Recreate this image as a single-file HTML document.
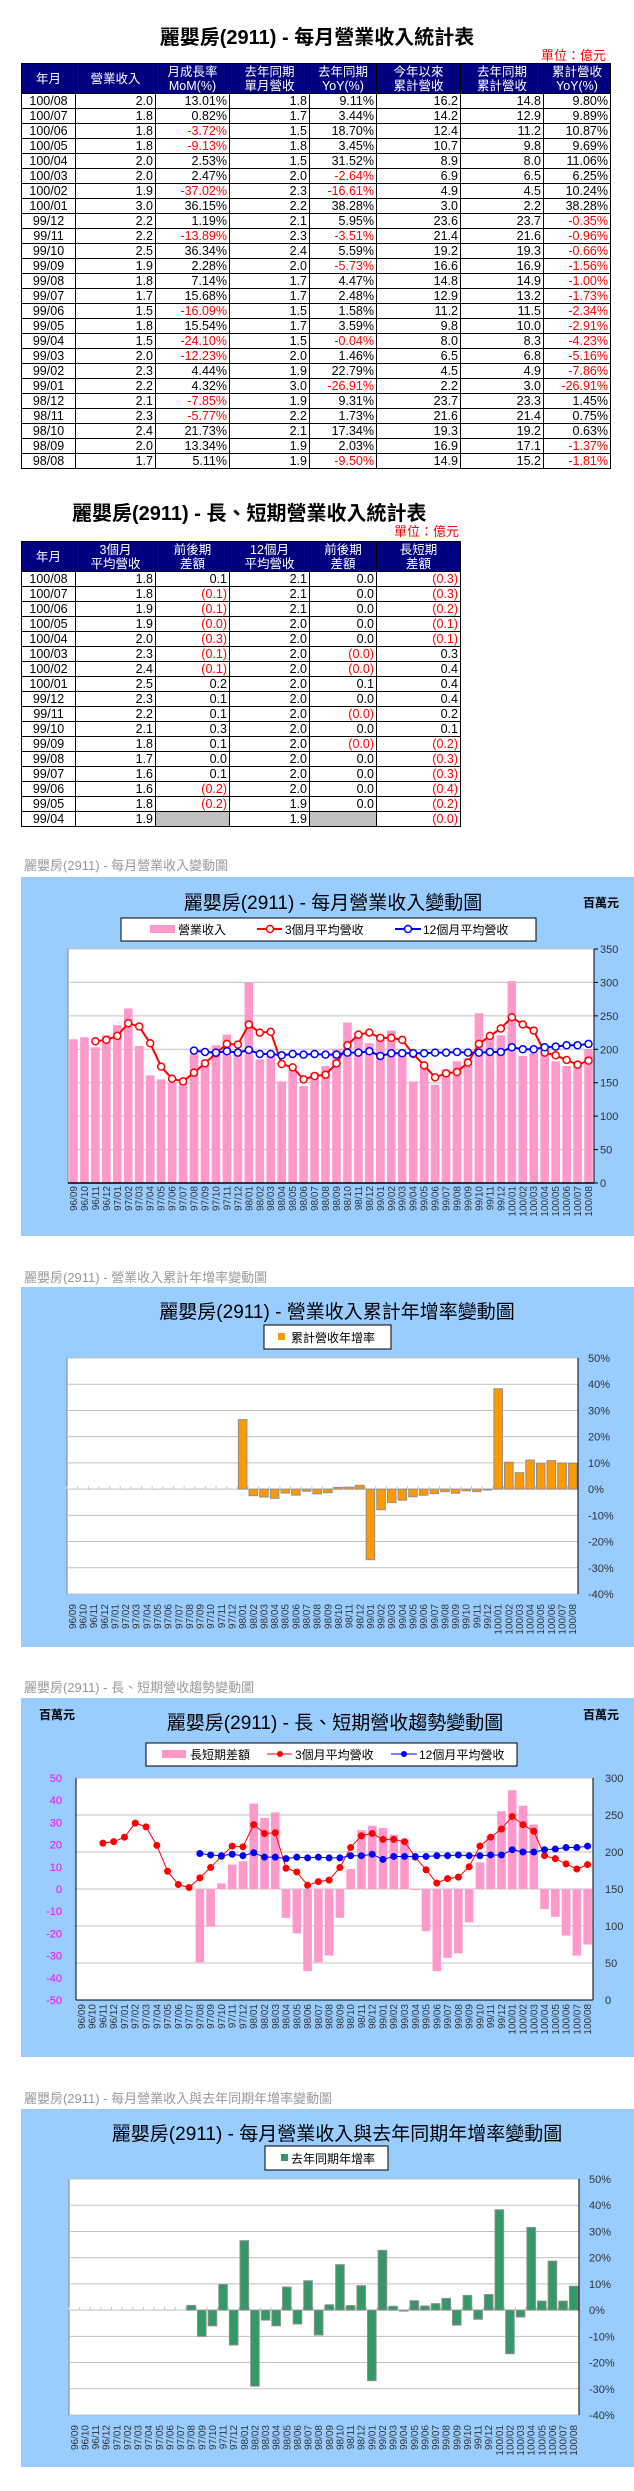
<!DOCTYPE html>
<html><head><meta charset="utf-8">
<style>
body{margin:0;width:634px;height:2491px;position:relative;background:#fff;font-family:"Liberation Sans","Noto Sans CJK TC",sans-serif;overflow:hidden}
.t{position:absolute;white-space:nowrap}
table{position:absolute;border-collapse:collapse;font-size:12.5px;table-layout:fixed}
td,th{border:1px solid #000;padding:0 2px;height:14px;line-height:14px;text-align:right;color:#000}
th{background:#000080;color:#fff;font-weight:normal;text-align:center;height:29px;line-height:14px;font-size:12.5px}
td.c{text-align:center}
td.n{color:#f00}
td.g{background:#c0c0c0}
</style></head><body>
<div class="t" style="left:0;width:634px;text-align:center;top:21px;font-size:20px;font-weight:bold">麗嬰房(2911) - 每月營業收入統計表</div>
<div class="t" style="right:28px;top:45px;font-size:13px;color:#f00">單位：億元</div>
<table id="t1" style="left:21px;top:63px;width:589px">
<colgroup><col style="width:54px"><col style="width:80px"><col style="width:74px"><col style="width:80px"><col style="width:67px"><col style="width:84px"><col style="width:83px"><col style="width:67px"></colgroup>
<tr><th>年月</th><th>營業收入</th><th>月成長率<br>MoM(%)</th><th>去年同期<br>單月營收</th><th>去年同期<br>YoY(%)</th><th>今年以來<br>累計營收</th><th>去年同期<br>累計營收</th><th>累計營收<br>YoY(%)</th></tr>
</table>
<div class="t" style="left:72px;top:497px;font-size:20px;font-weight:bold">麗嬰房(2911) - 長、短期營業收入統計表</div>
<div class="t" style="left:394px;top:521px;font-size:13px;color:#f00">單位：億元</div>
<table id="t2" style="left:21px;top:541px;width:439px">
<colgroup><col style="width:54px"><col style="width:80px"><col style="width:74px"><col style="width:80px"><col style="width:67px"><col style="width:84px"></colgroup>
<tr><th>年月</th><th>3個月<br>平均營收</th><th>前後期<br>差額</th><th>12個月<br>平均營收</th><th>前後期<br>差額</th><th>長短期<br>差額</th></tr>
</table>
<svg id="sv" xmlns="http://www.w3.org/2000/svg" width="634" height="2491" style="position:absolute;left:0;top:0" font-family="Liberation Sans, Noto Sans CJK TC, sans-serif"></svg>
<script>
const t1Rows=[
["100/08","2.0","13.01%","1.8","9.11%","16.2","14.8","9.80%"],
["100/07","1.8","0.82%","1.7","3.44%","14.2","12.9","9.89%"],
["100/06","1.8","-3.72%","1.5","18.70%","12.4","11.2","10.87%"],
["100/05","1.8","-9.13%","1.8","3.45%","10.7","9.8","9.69%"],
["100/04","2.0","2.53%","1.5","31.52%","8.9","8.0","11.06%"],
["100/03","2.0","2.47%","2.0","-2.64%","6.9","6.5","6.25%"],
["100/02","1.9","-37.02%","2.3","-16.61%","4.9","4.5","10.24%"],
["100/01","3.0","36.15%","2.2","38.28%","3.0","2.2","38.28%"],
["99/12","2.2","1.19%","2.1","5.95%","23.6","23.7","-0.35%"],
["99/11","2.2","-13.89%","2.3","-3.51%","21.4","21.6","-0.96%"],
["99/10","2.5","36.34%","2.4","5.59%","19.2","19.3","-0.66%"],
["99/09","1.9","2.28%","2.0","-5.73%","16.6","16.9","-1.56%"],
["99/08","1.8","7.14%","1.7","4.47%","14.8","14.9","-1.00%"],
["99/07","1.7","15.68%","1.7","2.48%","12.9","13.2","-1.73%"],
["99/06","1.5","-16.09%","1.5","1.58%","11.2","11.5","-2.34%"],
["99/05","1.8","15.54%","1.7","3.59%","9.8","10.0","-2.91%"],
["99/04","1.5","-24.10%","1.5","-0.04%","8.0","8.3","-4.23%"],
["99/03","2.0","-12.23%","2.0","1.46%","6.5","6.8","-5.16%"],
["99/02","2.3","4.44%","1.9","22.79%","4.5","4.9","-7.86%"],
["99/01","2.2","4.32%","3.0","-26.91%","2.2","3.0","-26.91%"],
["98/12","2.1","-7.85%","1.9","9.31%","23.7","23.3","1.45%"],
["98/11","2.3","-5.77%","2.2","1.73%","21.6","21.4","0.75%"],
["98/10","2.4","21.73%","2.1","17.34%","19.3","19.2","0.63%"],
["98/09","2.0","13.34%","1.9","2.03%","16.9","17.1","-1.37%"],
["98/08","1.7","5.11%","1.9","-9.50%","14.9","15.2","-1.81%"]];
const t2Rows=[
["100/08","1.8","0.1","2.1","0.0","(0.3)"],["100/07","1.8","(0.1)","2.1","0.0","(0.3)"],
["100/06","1.9","(0.1)","2.1","0.0","(0.2)"],["100/05","1.9","(0.0)","2.0","0.0","(0.1)"],
["100/04","2.0","(0.3)","2.0","0.0","(0.1)"],["100/03","2.3","(0.1)","2.0","(0.0)","0.3"],
["100/02","2.4","(0.1)","2.0","(0.0)","0.4"],["100/01","2.5","0.2","2.0","0.1","0.4"],
["99/12","2.3","0.1","2.0","0.0","0.4"],["99/11","2.2","0.1","2.0","(0.0)","0.2"],
["99/10","2.1","0.3","2.0","0.0","0.1"],["99/09","1.8","0.1","2.0","(0.0)","(0.2)"],
["99/08","1.7","0.0","2.0","0.0","(0.3)"],["99/07","1.6","0.1","2.0","0.0","(0.3)"],
["99/06","1.6","(0.2)","2.0","0.0","(0.4)"],["99/05","1.8","(0.2)","1.9","0.0","(0.2)"],
["99/04","1.9","","1.9","","(0.0)"]];
function fill(id,rows){
  const tb=document.getElementById(id);
  rows.forEach(r=>{
    const tr=document.createElement('tr');
    
    
    r.forEach((v,i)=>{
      const td=document.createElement('td');
      td.textContent=v;
      if(i===0)td.className='c';
      else if(v==='')td.className='g';
      else if(v.startsWith('-')||v.startsWith('('))td.className='n';
      tr.appendChild(td);
    });
    tb.appendChild(tr);
  });
}
fill('t1',t1Rows);fill('t2',t2Rows);

const cats=["96/09","96/10","96/11","96/12","97/01","97/02","97/03","97/04","97/05","97/06","97/07","97/08","97/09","97/10","97/11","97/12","98/01","98/02","98/03","98/04","98/05","98/06","98/07","98/08","98/09","98/10","98/11","98/12","99/01","99/02","99/03","99/04","99/05","99/06","99/07","99/08","99/09","99/10","99/11","99/12","100/01","100/02","100/03","100/04","100/05","100/06","100/07","100/08"];
const revenue=[215,218,203,221,236,261,205,161,155,150,148,193,180,206,222,195,300,185,190,152,169,145,165,175,200,240,225,209,220,228,200,152,178,147,170,182,187,254,220,221,302,190,195,200,182,175,178,200];
const avg3=[null,null,212,214,220,239,234,209,174,156,152,165,179,194,208,207,237,225,226,178,173,155,160,162,179,206,222,225,217,217,214,193,176,158,164,166,180,208,220,231,248,237,228,195,191,184,177,183];
const avg12=[null,null,null,null,null,null,null,null,null,null,null,198,196,195,197,195,199,193,193,191,193,192,193,192,192,195,195,197,190,194,194,194,194,195,195,196,195,195,196,196,203,200,200,203,204,206,206,208];
const cumYoY=[0,0,0,0,0,0,0,0,0,0,0,0,0,0,0,0,26.5,-2.5,-3,-3.5,-1.5,-2.3,-0.8,-1.81,-1.37,0.63,0.75,1.45,-26.91,-7.86,-5.16,-4.23,-2.91,-2.34,-1.73,-1.0,-1.56,-0.66,-0.96,-0.35,38.28,10.24,6.25,11.06,9.69,10.87,9.89,9.80];
const lsDiff=[null,null,null,null,null,null,null,null,null,null,null,-33,-17,2.5,11,12.5,38.5,32,34.5,-13,-20,-37,-33,-30,-13,9,26.5,28.5,27.5,24.5,22,-0.5,-19,-37,-31,-29,-15,12,24,35,44.5,37.5,29,-9,-12.5,-21,-30,-25];
const yoy=[0,0,0,0,0,0,0,0,0,0,0,1.8,-10,-6,9.8,-13.3,26.5,-29,-3.8,-6,8.8,-5.3,11.2,-9.5,2.03,17.34,1.73,9.31,-26.91,22.79,1.46,-0.04,3.59,1.58,2.48,4.47,-5.73,5.59,-3.51,5.95,38.28,-16.61,-2.64,31.52,3.45,18.70,3.44,9.11];
const ticks1=["0","50","100","150","200","250","300","350"];
const ticksPct=["-40%","-30%","-20%","-10%","0%","10%","20%","30%","40%","50%"];
const ticks3L=["-50","-40","-30","-20","-10","0","10","20","30","40","50"];
const ticks3R=["0","50","100","150","200","250","300"];

const NS='http://www.w3.org/2000/svg';
const sv=document.getElementById('sv');
function mk(tag,a,p){const e=document.createElementNS(NS,tag);for(const k in a)e.setAttribute(k,a[k]);(p||sv).appendChild(e);return e;}
function txt(s,a,p){const e=mk('text',a,p);e.textContent=s;return e;}
function panel(name,top,bottom,caption,capY){
  const c=txt(caption,{x:24,y:capY,'font-size':13,fill:'#999'});
  
  
  const r=mk('rect',{x:21,y:top,width:613,height:bottom-top,fill:'#99ccff'});
  
  
}
function plotBox(L,R,T,B){mk('rect',{x:L,y:T,width:R-L,height:B-T,fill:'#fff',stroke:'#808080'});}
function xLabels(L,slot,y,color){
  cats.forEach((c,i)=>{
    const x=L+(i+0.5)*slot+3.5;
    const t=txt(c,{x:x,y:y,'font-size':10,fill:color||'#333','text-anchor':'end',transform:'rotate(-90 '+x+' '+y+')'});
    
    
  });
}
function title(s,x,y){const t=txt(s,{x:x,y:y,'font-size':19,'text-anchor':'middle',fill:'#000'});}
function legendBox(x1,y1,x2,y2){const r=mk('rect',{x:x1,y:y1,width:x2-x1,height:y2-y1,fill:'#fff',stroke:'#000'});}
function series(vals,X,Y,color,w,hollow,rad,name){
  let d='';
  vals.forEach((v,i)=>{if(v==null)return;d+=(d?'L':'M')+X(i)+' '+Y(v);});
  const p=mk('path',{d:d,fill:'none',stroke:color,'stroke-width':w});
  
  
  vals.forEach((v,i)=>{if(v==null)return;
    const c=mk('circle',{cx:X(i),cy:Y(v),r:rad,fill:hollow?'#fff':color,stroke:color,'stroke-width':hollow?1.5:1});
    
    
  });
}

/* Chart 1 */
(function(){
  panel('revenue-chart',877,1236,'麗嬰房(2911) - 每月營業收入變動圖',870);
  const L=68,R=594,T=949,B=1183,slot=(R-L)/cats.length;
  const X=i=>L+(i+0.5)*slot, Y=v=>B-v/350*(B-T);
  plotBox(L,R,T,B);
  ticks1.forEach(s=>{const v=+s;mk('line',{x1:L,x2:R,y1:Y(v),y2:Y(v),stroke:'#c0c0c0'});
    mk('line',{x1:R,x2:R+4,y1:Y(v),y2:Y(v),stroke:'#000'});
    const t=txt(s,{x:600,y:Y(v)+4,'font-size':11,fill:'#333'});});
  revenue.forEach((v,i)=>{const r=mk('rect',{x:X(i)-4.3,y:Y(v),width:8.6,height:B-Y(v),fill:'#ff99cc'});});
  mk('line',{x1:L,x2:R,y1:B,y2:B,stroke:'#000','stroke-width':1.5});
  mk('line',{x1:R,x2:R,y1:T,y2:B,stroke:'#000'});
  series(avg3,X,Y,'#f00',2,true,3.5,'avg3');
  series(avg12,X,Y,'#00f',2,true,3.5,'avg12');
  xLabels(L,slot,1186);
  title('麗嬰房(2911) - 每月營業收入變動圖',333,909);
  const u=txt('百萬元',{x:583,y:907,'font-size':12,'font-weight':'bold'});
  legendBox(121,918,536,941);
  mk('rect',{x:150,y:925,width:25,height:8,fill:'#ff99cc'});txt('營業收入',{x:178,y:934,'font-size':12});
  mk('line',{x1:257,x2:282,y1:929,y2:929,stroke:'#f00','stroke-width':2});mk('circle',{cx:270,cy:929,r:3.5,fill:'#fff',stroke:'#f00','stroke-width':1.5});txt('3個月平均營收',{x:285,y:934,'font-size':12});
  mk('line',{x1:395,x2:421,y1:929,y2:929,stroke:'#00f','stroke-width':2});mk('circle',{cx:408,cy:929,r:3.5,fill:'#fff',stroke:'#00f','stroke-width':1.5});txt('12個月平均營收',{x:423,y:934,'font-size':12});
})();

/* Chart 2 */
(function(){
  panel('cumulative-yoy-chart',1287,1647,'麗嬰房(2911) -  營業收入累計年增率變動圖',1282);
  const L=67,R=578,T=1358,B=1594,slot=(R-L)/cats.length;
  const X=i=>L+(i+0.5)*slot, Y=v=>B-(v+40)/90*(B-T);
  plotBox(L,R,T,B);
  ticksPct.forEach(s=>{const v=parseFloat(s);mk('line',{x1:L,x2:R,y1:Y(v),y2:Y(v),stroke:'#c0c0c0'});
    const t=txt(s,{x:588,y:Y(v)+4,'font-size':11,fill:'#333'});});
  cats.forEach((c,i)=>mk('line',{x1:L+i*slot,x2:L+i*slot,y1:Y(0)-3,y2:Y(0),stroke:'#c0c0c0'}));
  cumYoY.forEach((v,i)=>{if(!v)return;const y0=Y(0),y1=Y(v);const r=mk('rect',{x:X(i)-4.3,y:Math.min(y0,y1),width:8.6,height:Math.abs(y1-y0),fill:'#ff9900',stroke:'#909090'});});
  mk('line',{x1:R,x2:R,y1:T,y2:B,stroke:'#000'});
  xLabels(L,slot,1604);
  title('麗嬰房(2911) -  營業收入累計年增率變動圖',337,1318);
  legendBox(264,1325,391,1349);
  mk('rect',{x:278,y:1333,width:7,height:7,fill:'#ff9900'});txt('累計營收年增率',{x:291,y:1342,'font-size':12});
})();

/* Chart 3 */
(function(){
  panel('long-short-chart',1698,2057,'麗嬰房(2911) -  長、短期營收趨勢變動圖',1692);
  const L=76,R=593,T=1778,B=2000,slot=(R-L)/cats.length;
  const X=i=>L+(i+0.5)*slot, YL=v=>B-(v+50)/100*(B-T), YR=v=>B-v/300*(B-T);
  plotBox(L,R,T,B);
  ticks3R.forEach(s=>{const v=+s;mk('line',{x1:L,x2:R,y1:YR(v),y2:YR(v),stroke:'#c0c0c0'});
    const t=txt(s,{x:605,y:YR(v)+4,'font-size':11,fill:'#333'});});
  ticks3L.forEach(s=>{const v=+s;const t=txt(s,{x:62,y:YL(v)+4,'font-size':11,fill:'#ff00ff','text-anchor':'end'});});
  lsDiff.forEach((v,i)=>{if(v==null)return;const y0=YL(0),y1=YL(v);const r=mk('rect',{x:X(i)-4.3,y:Math.min(y0,y1),width:8.6,height:Math.max(1,Math.abs(y1-y0)),fill:'#ff99cc'});});
  mk('line',{x1:L,x2:L,y1:T,y2:B,stroke:'#000'});mk('line',{x1:R,x2:R,y1:T,y2:B,stroke:'#000'});mk('line',{x1:L,x2:R,y1:B,y2:B,stroke:'#000'});
  series(avg3,X,YR,'#f00',1,false,3,'avg3');
  series(avg12,X,YR,'#00f',1,false,3,'avg12');
  xLabels(L,slot,2004);
  title('麗嬰房(2911) -  長、短期營收趨勢變動圖',335,1729);
  const u1=txt('百萬元',{x:39,y:1719,'font-size':12,'font-weight':'bold'});
  const u2=txt('百萬元',{x:583,y:1719,'font-size':12,'font-weight':'bold'});
  legendBox(146,1743,517,1766);
  mk('rect',{x:162,y:1750,width:24,height:8,fill:'#ff99cc'});txt('長短期差額',{x:190,y:1759,'font-size':12});
  mk('line',{x1:267,x2:292,y1:1754,y2:1754,stroke:'#f00'});mk('circle',{cx:280,cy:1754,r:3,fill:'#f00'});txt('3個月平均營收',{x:295,y:1759,'font-size':12});
  mk('line',{x1:391,x2:417,y1:1754,y2:1754,stroke:'#00f'});mk('circle',{cx:404,cy:1754,r:3,fill:'#00f'});txt('12個月平均營收',{x:419,y:1759,'font-size':12});
})();

/* Chart 4 */
(function(){
  panel('yoy-chart',2109,2467,'麗嬰房(2911) -  每月營業收入與去年同期年增率變動圖',2103);
  const L=69,R=579,T=2179,B=2415,slot=(R-L)/cats.length;
  const X=i=>L+(i+0.5)*slot, Y=v=>B-(v+40)/90*(B-T);
  plotBox(L,R,T,B);
  ticksPct.forEach(s=>{const v=parseFloat(s);mk('line',{x1:L,x2:R,y1:Y(v),y2:Y(v),stroke:'#c0c0c0'});
    const t=txt(s,{x:589,y:Y(v)+4,'font-size':11,fill:'#333'});});
  cats.forEach((c,i)=>mk('line',{x1:L+i*slot,x2:L+i*slot,y1:Y(0)-3,y2:Y(0),stroke:'#c0c0c0'}));
  yoy.forEach((v,i)=>{if(!v)return;const y0=Y(0),y1=Y(v);const r=mk('rect',{x:X(i)-4.3,y:Math.min(y0,y1),width:8.6,height:Math.max(1,Math.abs(y1-y0)),fill:'#339966',stroke:'#909090'});});
  mk('line',{x1:R,x2:R,y1:T,y2:B,stroke:'#000'});
  xLabels(L,slot,2425);
  title('麗嬰房(2911) -  每月營業收入與去年同期年增率變動圖',337,2140);
  legendBox(265,2146,388,2170);
  mk('rect',{x:281,y:2154,width:7,height:7,fill:'#339966'});txt('去年同期年增率',{x:291,y:2163,'font-size':12});
})();
</script>
</body></html>
